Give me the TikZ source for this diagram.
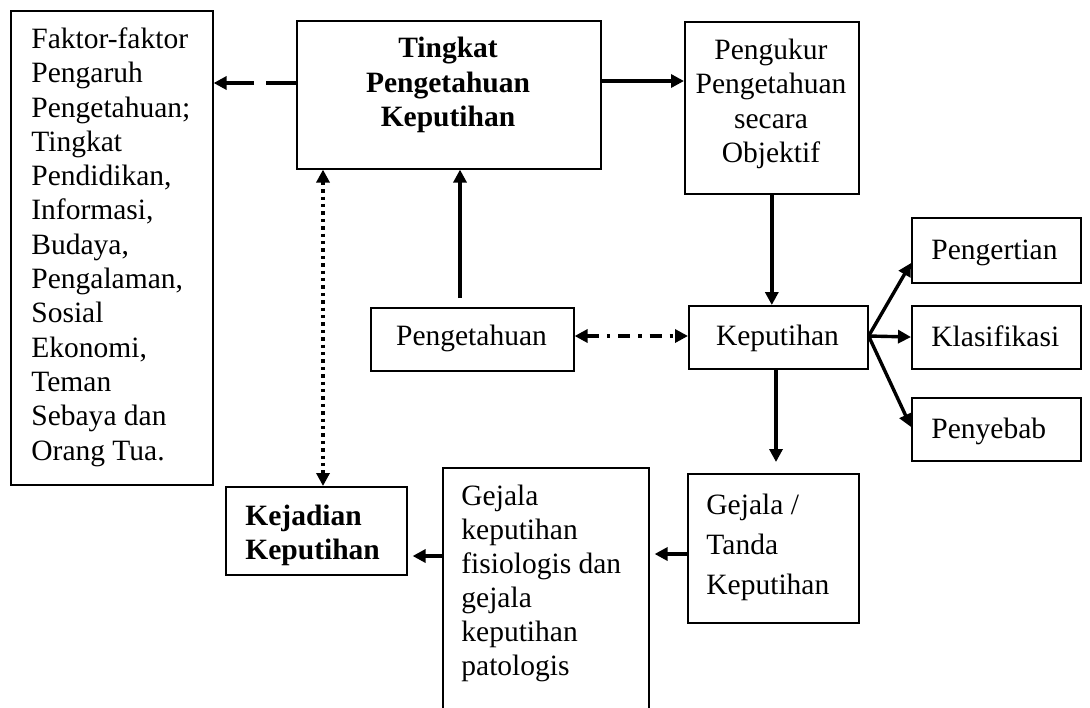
\documentclass[tikz,border=0pt]{standalone}
\usepackage{fontspec}
\setmainfont{Liberation Serif}
\usetikzlibrary{arrows.meta}
\newcommand\mybox[5]{\node[box, minimum width={(#4-#2)*0.5pt}, minimum height={(#5-#3)*0.5pt}] (#1) at (#2,#3) {};}
\begin{document}
\begin{tikzpicture}[x=0.5pt,y=-0.5pt,
  box/.style={draw, line width=0.8pt, inner sep=0pt, anchor=north west},
  txt/.style={inner sep=0pt, font=\fontsize{14.75}{17.15}\selectfont},
  btxt/.style={txt, font=\fontsize{14.75}{17.25}\selectfont\bfseries},
  arr/.style={line width=1.7pt, -{Triangle[length=6.5pt,width=6.5pt]}},
  darr/.style={line width=1.7pt, {Triangle[length=6.5pt,width=6.5pt]}-{Triangle[length=6.5pt,width=6.5pt]}}]
\useasboundingbox (0,0) rectangle (1090,707);
\fill[white] (0,0) rectangle (1090,707);
% boxes
\mybox{L}{10}{10}{212}{484}
\mybox{T}{296}{20}{600}{168}
\mybox{P}{684}{21}{858}{193}
\mybox{G}{370}{307}{573}{370}
\mybox{K}{688}{305}{867}{368}
\mybox{R1}{911}{217}{1080}{282}
\mybox{R2}{911}{305}{1080}{368}
\mybox{R3}{911}{397}{1080}{460}
\mybox{J}{225}{486}{406}{574}
\begin{scope}
\clip (0,0) rectangle (1090,707);
\mybox{S}{442}{467}{648}{716}
\end{scope}
\mybox{D}{687}{473}{858}{622}
% texts
\node[txt, anchor=north west, align=left] (tL) at (31,24) {\strut Faktor-faktor\\Pengaruh\\Pengetahuan;\\Tingkat\\Pendidikan,\\Informasi,\\Budaya,\\Pengalaman,\\Sosial\\Ekonomi,\\Teman\\Sebaya dan\\Orang Tua.};
\node[btxt, anchor=north, align=center] (tT) at (448,33) {\strut Tingkat\\Pengetahuan\\Keputihan};
\node[txt, anchor=north, align=center] (tP) at (771,35) {\strut Pengukur\\Pengetahuan\\secara\\Objektif};
\node[txt, anchor=base] (tG) at (471.5,345) {Pengetahuan};
\node[txt, anchor=base] (tK) at (777.5,345) {Keputihan};
\node[txt, anchor=base west] (tR1) at (931,259) {Pengertian};
\node[txt, anchor=base west] (tR2) at (931,346) {Klasifikasi};
\node[txt, anchor=base west] (tR3) at (931,438) {Penyebab};
\node[btxt, anchor=north west, align=left, font=\fontsize{14.75}{17}\selectfont\bfseries] (tJ) at (245,501) {\strut Kejadian\\Keputihan};
\node[txt, anchor=north west, align=left, font=\fontsize{14.75}{17}\selectfont] (tS) at (461,481) {\strut Gejala\\keputihan\\fisiologis dan\\gejala\\keputihan\\patologis};
\node[txt, anchor=north west, align=left, font=\fontsize{14.75}{20}\selectfont] (tD) at (706,486) {\strut Gejala /\\Tanda\\Keputihan};
% connectors
\draw[arr, dash pattern=on 15pt off 6pt] (T.west |- 0,83) -- (L.east |- 0,83);
\draw[arr] (T.east |- 0,81) -- (P.west |- 0,81);
\draw[arr] (P.south) -- (P.south |- K.north);
\draw[arr, shorten <=4.5pt] (G.north -| 460,0) -- (T.south -| 460,0);
\draw[darr, dash pattern=on 6pt off 4pt on 1.7pt off 4pt] (G.east |- 0,336) -- (K.west |- 0,336);
\draw[darr, dash pattern=on 1.7pt off 2pt] (T.south -| 323,0) -- (J.north -| 323,0);
\draw[arr] (K.east |- 0,336) -- (R1.west |- 0,263);
\draw[arr] (K.east |- 0,336) -- (R2.west |- 0,337);
\draw[arr] (K.east |- 0,336) -- (R3.west |- 0,427);
\draw[arr, shorten >=5.5pt] (K.south -| 776,0) -- (D.north -| 776,0);
\draw[arr, shorten >=2.5pt] (D.west |- 0,554) -- (S.east |- 0,554);
\draw[arr, shorten >=2.5pt] (S.west |- 0,556) -- (J.east |- 0,556);
\end{tikzpicture}
\end{document}
